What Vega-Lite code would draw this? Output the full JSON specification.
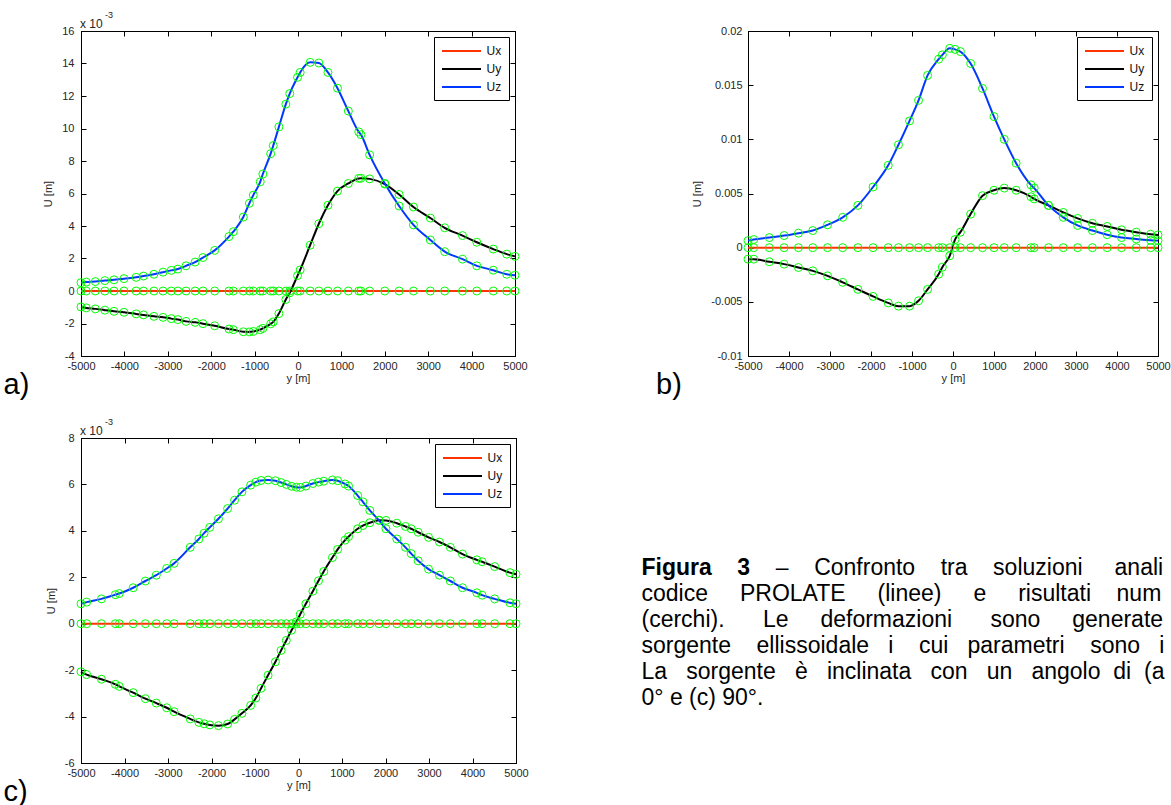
{
  "$schema": "https://vega.github.io/schema/vega-lite/v6.json",
  "background": "white",
  "padding": {"left": 3, "top": 10, "right": 0, "bottom": 0},
  "config": {
    "font": "Liberation Sans",
    "view": {"stroke": "#000", "strokeWidth": 1},
    "axis": {"grid": false, "domainColor": "#000", "domainWidth": 1, "tickColor": "#000", "tickWidth": 1, "labelFont": "Liberation Sans", "labelFontSize": 11, "labelColor": "#262626", "titleFont": "Liberation Sans", "titleFontSize": 11, "titleFontWeight": "normal", "titleColor": "#262626"},
    "legend": {"symbolType": "M-3.25,0H3.25", "symbolSize": 144, "symbolStrokeWidth": 2, "symbolOffset": 13.5, "labelOffset": 18, "labelFontSize": 12, "labelFont": "Liberation Sans", "labelColor": "#111", "strokeColor": "#000", "strokeWidth": 1, "fillColor": "white", "padding": 7, "rowPadding": 5, "cornerRadius": 0}
  },
  "datasets": {
    "a": [
      {"pos": -5000, "Ux": 0, "Uy": -0.98, "Uz": 0.51},
      {"pos": -4880, "Ux": 0, "Uy": -1.04, "Uz": 0.55},
      {"pos": -4670, "Ux": 0, "Uy": -1.10, "Uz": 0.58},
      {"pos": -4450, "Ux": 0, "Uy": -1.18, "Uz": 0.64},
      {"pos": -4240, "Ux": 0, "Uy": -1.25, "Uz": 0.69},
      {"pos": -4010, "Ux": 0, "Uy": -1.31, "Uz": 0.76},
      {"pos": -3730, "Ux": 0, "Uy": -1.41, "Uz": 0.84},
      {"pos": -3560, "Ux": 0, "Uy": -1.47, "Uz": 0.92},
      {"pos": -3320, "Ux": 0, "Uy": -1.56, "Uz": 1.03},
      {"pos": -3110, "Ux": 0, "Uy": -1.62, "Uz": 1.16},
      {"pos": -2920, "Ux": 0, "Uy": -1.70, "Uz": 1.27},
      {"pos": -2770, "Ux": 0, "Uy": -1.76, "Uz": 1.35},
      {"pos": -2580, "Ux": 0, "Uy": -1.87, "Uz": 1.55},
      {"pos": -2370, "Ux": 0, "Uy": -1.93, "Uz": 1.78},
      {"pos": -2190, "Ux": 0, "Uy": -2.01, "Uz": 2.06},
      {"pos": -1920, "Ux": 0, "Uy": -2.14, "Uz": 2.50},
      {"pos": -1590, "Ux": 0, "Uy": -2.34, "Uz": 3.35},
      {"pos": -1490, "Ux": 0, "Uy": -2.38, "Uz": 3.65},
      {"pos": -1260, "Ux": 0, "Uy": -2.51, "Uz": 4.55},
      {"pos": -1120, "Ux": 0, "Uy": -2.52, "Uz": 5.40},
      {"pos": -1030, "Ux": 0, "Uy": -2.49, "Uz": 5.90},
      {"pos": -870, "Ux": 0, "Uy": -2.38, "Uz": 6.72},
      {"pos": -810, "Ux": 0, "Uy": -2.30, "Uz": 7.20},
      {"pos": -630, "Ux": 0, "Uy": -2.02, "Uz": 8.45},
      {"pos": -570, "Ux": 0, "Uy": -1.90, "Uz": 8.95},
      {"pos": -440, "Ux": 0, "Uy": -1.39, "Uz": 10.10},
      {"pos": -280, "Ux": 0, "Uy": -0.52, "Uz": 11.50},
      {"pos": -190, "Ux": 0, "Uy": -0.11, "Uz": 12.15},
      {"pos": -10, "Ux": 0, "Uy": 0.95, "Uz": 13.15},
      {"pos": 50, "Ux": 0, "Uy": 1.30, "Uz": 13.45},
      {"pos": 280, "Ux": 0, "Uy": 2.82, "Uz": 14.07},
      {"pos": 480, "Ux": 0, "Uy": 4.14, "Uz": 14.03},
      {"pos": 690, "Ux": 0, "Uy": 5.28, "Uz": 13.45},
      {"pos": 910, "Ux": 0, "Uy": 6.15, "Uz": 12.48},
      {"pos": 1160, "Ux": 0, "Uy": 6.62, "Uz": 11.07},
      {"pos": 1400, "Ux": 0, "Uy": 6.93, "Uz": 9.79},
      {"pos": 1450, "Ux": 0, "Uy": 6.94, "Uz": 9.62},
      {"pos": 1650, "Ux": 0, "Uy": 6.90, "Uz": 8.38},
      {"pos": 2000, "Ux": 0, "Uy": 6.58, "Uz": 6.62},
      {"pos": 2330, "Ux": 0, "Uy": 5.94, "Uz": 5.23},
      {"pos": 2660, "Ux": 0, "Uy": 5.17, "Uz": 4.07},
      {"pos": 3050, "Ux": 0, "Uy": 4.49, "Uz": 3.14},
      {"pos": 3380, "Ux": 0, "Uy": 3.89, "Uz": 2.42},
      {"pos": 3790, "Ux": 0, "Uy": 3.41, "Uz": 1.96},
      {"pos": 4120, "Ux": 0, "Uy": 3.00, "Uz": 1.55},
      {"pos": 4500, "Ux": 0, "Uy": 2.58, "Uz": 1.28},
      {"pos": 4810, "Ux": 0, "Uy": 2.27, "Uz": 1.03},
      {"pos": 5000, "Ux": 0, "Uy": 2.13, "Uz": 0.97}
    ],
    "b": [
      {"pos": -5000, "Ux": 0, "Uy": -0.00106, "Uz": 0.00065},
      {"pos": -4860, "Ux": 0, "Uy": -0.00106, "Uz": 0.00075},
      {"pos": -4480, "Ux": 0, "Uy": -0.00130, "Uz": 0.00093},
      {"pos": -4120, "Ux": 0, "Uy": -0.00152, "Uz": 0.00112},
      {"pos": -3770, "Ux": 0, "Uy": -0.00183, "Uz": 0.00134},
      {"pos": -3420, "Ux": 0, "Uy": -0.00214, "Uz": 0.00158},
      {"pos": -3060, "Ux": 0, "Uy": -0.00260, "Uz": 0.00211},
      {"pos": -2690, "Ux": 0, "Uy": -0.00320, "Uz": 0.00280},
      {"pos": -2320, "Ux": 0, "Uy": -0.00385, "Uz": 0.00390},
      {"pos": -1950, "Ux": 0, "Uy": -0.00450, "Uz": 0.00560},
      {"pos": -1580, "Ux": 0, "Uy": -0.00510, "Uz": 0.00760},
      {"pos": -1330, "Ux": 0, "Uy": -0.00540, "Uz": 0.00950},
      {"pos": -1060, "Ux": 0, "Uy": -0.00540, "Uz": 0.01170},
      {"pos": -840, "Ux": 0, "Uy": -0.00490, "Uz": 0.01360},
      {"pos": -620, "Ux": 0, "Uy": -0.00385, "Uz": 0.01590},
      {"pos": -350, "Ux": 0, "Uy": -0.00245, "Uz": 0.01740},
      {"pos": -260, "Ux": 0, "Uy": -0.00180, "Uz": 0.01780},
      {"pos": -80, "Ux": 0, "Uy": -0.00075, "Uz": 0.01840},
      {"pos": 50, "Ux": 0, "Uy": 0.00075, "Uz": 0.01830},
      {"pos": 180, "Ux": 0, "Uy": 0.00143, "Uz": 0.01810},
      {"pos": 430, "Ux": 0, "Uy": 0.00310, "Uz": 0.01700},
      {"pos": 720, "Ux": 0, "Uy": 0.00480, "Uz": 0.01470},
      {"pos": 1000, "Ux": 0, "Uy": 0.00530, "Uz": 0.01210},
      {"pos": 1250, "Ux": 0, "Uy": 0.00550, "Uz": 0.01000},
      {"pos": 1540, "Ux": 0, "Uy": 0.00530, "Uz": 0.00780},
      {"pos": 1900, "Ux": 0, "Uy": 0.00470, "Uz": 0.00580},
      {"pos": 1980, "Ux": 0, "Uy": 0.00450, "Uz": 0.00550},
      {"pos": 2330, "Ux": 0, "Uy": 0.00390, "Uz": 0.00390},
      {"pos": 2690, "Ux": 0, "Uy": 0.00325, "Uz": 0.00280},
      {"pos": 3040, "Ux": 0, "Uy": 0.00270, "Uz": 0.00205},
      {"pos": 3400, "Ux": 0, "Uy": 0.00225, "Uz": 0.00158},
      {"pos": 3760, "Ux": 0, "Uy": 0.00196, "Uz": 0.00120},
      {"pos": 4110, "Ux": 0, "Uy": 0.00165, "Uz": 0.00093},
      {"pos": 4470, "Ux": 0, "Uy": 0.00143, "Uz": 0.00080},
      {"pos": 4820, "Ux": 0, "Uy": 0.00124, "Uz": 0.00068},
      {"pos": 5000, "Ux": 0, "Uy": 0.00118, "Uz": 0.00065}
    ],
    "c": [
      {"pos": -5000, "Ux": 0, "Uy": -2.07, "Uz": 0.86},
      {"pos": -4870, "Ux": 0, "Uy": -2.19, "Uz": 0.93},
      {"pos": -4530, "Ux": 0, "Uy": -2.39, "Uz": 1.07},
      {"pos": -4210, "Ux": 0, "Uy": -2.61, "Uz": 1.25},
      {"pos": -4120, "Ux": 0, "Uy": -2.70, "Uz": 1.30},
      {"pos": -3800, "Ux": 0, "Uy": -2.97, "Uz": 1.55},
      {"pos": -3520, "Ux": 0, "Uy": -3.23, "Uz": 1.84},
      {"pos": -3270, "Ux": 0, "Uy": -3.42, "Uz": 2.09},
      {"pos": -3030, "Ux": 0, "Uy": -3.62, "Uz": 2.38},
      {"pos": -2860, "Ux": 0, "Uy": -3.79, "Uz": 2.60},
      {"pos": -2490, "Ux": 0, "Uy": -4.10, "Uz": 3.29},
      {"pos": -2290, "Ux": 0, "Uy": -4.25, "Uz": 3.65},
      {"pos": -2170, "Ux": 0, "Uy": -4.31, "Uz": 3.90},
      {"pos": -2040, "Ux": 0, "Uy": -4.36, "Uz": 4.15},
      {"pos": -1840, "Ux": 0, "Uy": -4.39, "Uz": 4.52},
      {"pos": -1630, "Ux": 0, "Uy": -4.32, "Uz": 4.96},
      {"pos": -1470, "Ux": 0, "Uy": -4.12, "Uz": 5.32},
      {"pos": -1300, "Ux": 0, "Uy": -3.86, "Uz": 5.68},
      {"pos": -1100, "Ux": 0, "Uy": -3.52, "Uz": 5.97},
      {"pos": -980, "Ux": 0, "Uy": -3.20, "Uz": 6.10},
      {"pos": -860, "Ux": 0, "Uy": -2.78, "Uz": 6.17},
      {"pos": -700, "Ux": 0, "Uy": -2.22, "Uz": 6.19},
      {"pos": -530, "Ux": 0, "Uy": -1.64, "Uz": 6.16},
      {"pos": -400, "Ux": 0, "Uy": -1.15, "Uz": 6.08},
      {"pos": -280, "Ux": 0, "Uy": -0.72, "Uz": 6.00},
      {"pos": -160, "Ux": 0, "Uy": -0.28, "Uz": 5.92},
      {"pos": -50, "Ux": 0, "Uy": 0.08, "Uz": 5.88},
      {"pos": 40, "Ux": 0, "Uy": 0.41, "Uz": 5.87},
      {"pos": 170, "Ux": 0, "Uy": 0.86, "Uz": 5.93},
      {"pos": 330, "Ux": 0, "Uy": 1.40, "Uz": 6.04},
      {"pos": 460, "Ux": 0, "Uy": 1.85, "Uz": 6.10},
      {"pos": 580, "Ux": 0, "Uy": 2.25, "Uz": 6.14},
      {"pos": 780, "Ux": 0, "Uy": 2.85, "Uz": 6.19},
      {"pos": 900, "Ux": 0, "Uy": 3.20, "Uz": 6.16},
      {"pos": 1070, "Ux": 0, "Uy": 3.60, "Uz": 6.02},
      {"pos": 1150, "Ux": 0, "Uy": 3.75, "Uz": 5.93},
      {"pos": 1360, "Ux": 0, "Uy": 4.09, "Uz": 5.52},
      {"pos": 1480, "Ux": 0, "Uy": 4.23, "Uz": 5.25},
      {"pos": 1640, "Ux": 0, "Uy": 4.35, "Uz": 4.88},
      {"pos": 1850, "Ux": 0, "Uy": 4.46, "Uz": 4.45},
      {"pos": 2010, "Ux": 0, "Uy": 4.45, "Uz": 4.09},
      {"pos": 2260, "Ux": 0, "Uy": 4.33, "Uz": 3.65},
      {"pos": 2460, "Ux": 0, "Uy": 4.19, "Uz": 3.29},
      {"pos": 2590, "Ux": 0, "Uy": 4.09, "Uz": 3.02},
      {"pos": 2750, "Ux": 0, "Uy": 3.94, "Uz": 2.71},
      {"pos": 2990, "Ux": 0, "Uy": 3.72, "Uz": 2.35},
      {"pos": 3240, "Ux": 0, "Uy": 3.52, "Uz": 2.09},
      {"pos": 3490, "Ux": 0, "Uy": 3.29, "Uz": 1.84},
      {"pos": 3770, "Ux": 0, "Uy": 3.00, "Uz": 1.55},
      {"pos": 4100, "Ux": 0, "Uy": 2.75, "Uz": 1.33},
      {"pos": 4220, "Ux": 0, "Uy": 2.67, "Uz": 1.23},
      {"pos": 4510, "Ux": 0, "Uy": 2.46, "Uz": 1.07},
      {"pos": 4860, "Ux": 0, "Uy": 2.20, "Uz": 0.90},
      {"pos": 5000, "Ux": 0, "Uy": 2.13, "Uz": 0.86}
    ]
  },
  "columns": 2,
  "align": "none",
  "bounds": "flush",
  "spacing": {"row": 82, "column": 232},
  "resolve": {"scale": {"x": "independent", "y": "independent", "color": "independent"}, "axis": {"x": "independent", "y": "independent"}, "legend": {"color": "independent"}},
  "concat": [
    {
      "width": 434, "height": 325,
      "resolve": {"axis": {"x": "independent", "y": "independent"}},
      "layer": [
        {
          "data": {"name": "a"},
          "transform": [{"fold": ["Ux", "Uy", "Uz"], "as": ["comp", "U"]}],
          "mark": {"type": "line", "strokeWidth": 2, "interpolate": "monotone"},
          "encoding": {
            "x": {"field": "pos", "type": "quantitative", "scale": {"domain": [-5000, 5000], "nice": false}, "axis": {"orient": "bottom", "values": [-5000, -4000, -3000, -2000, -1000, 0, 1000, 2000, 3000, 4000, 5000], "labelExpr": "''+datum.value", "title": "y [m]", "tickSize": -5, "labelPadding": 9, "titlePadding": 1, "labelFlush": false, "labelOverlap": false}},
            "y": {"field": "U", "type": "quantitative", "scale": {"domain": [-4, 16], "nice": false, "zero": false}, "axis": {"orient": "left", "values": [-4, -2, 0, 2, 4, 6, 8, 10, 12, 14, 16], "labelExpr": "''+datum.value", "title": "U [m]", "tickSize": -5, "labelPadding": 12, "titlePadding": 8, "labelFlush": false, "labelOverlap": false}},
            "color": {"field": "comp", "type": "nominal", "scale": {"domain": ["Ux", "Uy", "Uz"], "range": ["#ff3300", "#000000", "#0038ff"]}, "legend": {"orient": "top-right", "offset": 6, "title": null}}
          }
        },
        {
          "data": {"name": "a"},
          "transform": [{"fold": ["Ux", "Uy", "Uz"], "as": ["comp", "U"]}],
          "mark": {"type": "point", "shape": "circle", "filled": false, "color": "#00ff00", "size": 64, "strokeWidth": 1, "opacity": 1},
          "encoding": {
            "x": {"field": "pos", "type": "quantitative", "scale": {"domain": [-5000, 5000], "nice": false}, "axis": {"orient": "top", "values": [-5000, -4000, -3000, -2000, -1000, 0, 1000, 2000, 3000, 4000, 5000], "labels": false, "title": null, "tickSize": -5}},
            "y": {"field": "U", "type": "quantitative", "scale": {"domain": [-4, 16], "nice": false, "zero": false}, "axis": {"orient": "right", "values": [-4, -2, 0, 2, 4, 6, 8, 10, 12, 14, 16], "labels": false, "title": null, "tickSize": -5}}
          }
        },
        {
          "data": {"values": [{"pos": -5000, "U": 16, "t": "x 10"}]},
          "mark": {"type": "text", "align": "left", "baseline": "alphabetic", "dx": -1, "dy": -3, "fontSize": 12, "font": "Liberation Sans", "color": "#262626"},
          "encoding": {"x": {"field": "pos", "type": "quantitative", "scale": {"domain": [-5000, 5000], "nice": false}, "axis": null}, "y": {"field": "U", "type": "quantitative", "scale": {"domain": [-4, 16], "nice": false, "zero": false}, "axis": null}, "text": {"field": "t"}}
        },
        {
          "data": {"values": [{"pos": -5000, "U": 16, "t": "-3"}]},
          "mark": {"type": "text", "align": "left", "baseline": "alphabetic", "dx": 24, "dy": -13, "fontSize": 9, "font": "Liberation Sans", "color": "#262626"},
          "encoding": {"x": {"field": "pos", "type": "quantitative", "scale": {"domain": [-5000, 5000], "nice": false}, "axis": null}, "y": {"field": "U", "type": "quantitative", "scale": {"domain": [-4, 16], "nice": false, "zero": false}, "axis": null}, "text": {"field": "t"}}
        },
        {
          "data": {"values": [{"pos": -5000, "U": -4, "t": "a)"}]},
          "mark": {"type": "text", "align": "left", "baseline": "alphabetic", "dx": -77.5, "dy": 38, "fontSize": 29, "font": "Liberation Sans", "color": "#000"},
          "encoding": {"x": {"field": "pos", "type": "quantitative", "scale": {"domain": [-5000, 5000], "nice": false}, "axis": null}, "y": {"field": "U", "type": "quantitative", "scale": {"domain": [-4, 16], "nice": false, "zero": false}, "axis": null}, "text": {"field": "t"}}
        }
      ]
    },
    {
      "width": 410, "height": 325,
      "resolve": {"axis": {"x": "independent", "y": "independent"}},
      "layer": [
        {
          "data": {"name": "b"},
          "transform": [{"fold": ["Ux", "Uy", "Uz"], "as": ["comp", "U"]}],
          "mark": {"type": "line", "strokeWidth": 2, "interpolate": "monotone"},
          "encoding": {
            "x": {"field": "pos", "type": "quantitative", "scale": {"domain": [-5000, 5000], "nice": false}, "axis": {"orient": "bottom", "values": [-5000, -4000, -3000, -2000, -1000, 0, 1000, 2000, 3000, 4000, 5000], "labelExpr": "''+datum.value", "title": "y [m]", "tickSize": -5, "labelPadding": 9, "titlePadding": 1, "labelFlush": false, "labelOverlap": false}},
            "y": {"field": "U", "type": "quantitative", "scale": {"domain": [-0.01, 0.02], "nice": false, "zero": false}, "axis": {"orient": "left", "values": [-0.01, -0.005, 0, 0.005, 0.01, 0.015, 0.02], "labelExpr": "''+datum.value", "title": "U [m]", "tickSize": -5, "labelPadding": 11, "titlePadding": 8, "labelFlush": false, "labelOverlap": false}},
            "color": {"field": "comp", "type": "nominal", "scale": {"domain": ["Ux", "Uy", "Uz"], "range": ["#ff3300", "#000000", "#0038ff"]}, "legend": {"orient": "top-right", "offset": 6, "title": null}}
          }
        },
        {
          "data": {"name": "b"},
          "transform": [{"fold": ["Ux", "Uy", "Uz"], "as": ["comp", "U"]}],
          "mark": {"type": "point", "shape": "circle", "filled": false, "color": "#00ff00", "size": 64, "strokeWidth": 1, "opacity": 1},
          "encoding": {
            "x": {"field": "pos", "type": "quantitative", "scale": {"domain": [-5000, 5000], "nice": false}, "axis": {"orient": "top", "values": [-5000, -4000, -3000, -2000, -1000, 0, 1000, 2000, 3000, 4000, 5000], "labels": false, "title": null, "tickSize": -5}},
            "y": {"field": "U", "type": "quantitative", "scale": {"domain": [-0.01, 0.02], "nice": false, "zero": false}, "axis": {"orient": "right", "values": [-0.01, -0.005, 0, 0.005, 0.01, 0.015, 0.02], "labels": false, "title": null, "tickSize": -5}}
          }
        },
        {
          "data": {"values": [{"pos": -5000, "U": -0.01, "t": "b)"}]},
          "mark": {"type": "text", "align": "left", "baseline": "alphabetic", "dx": -92, "dy": 38, "fontSize": 29, "font": "Liberation Sans", "color": "#000"},
          "encoding": {"x": {"field": "pos", "type": "quantitative", "scale": {"domain": [-5000, 5000], "nice": false}, "axis": null}, "y": {"field": "U", "type": "quantitative", "scale": {"domain": [-0.01, 0.02], "nice": false, "zero": false}, "axis": null}, "text": {"field": "t"}}
        }
      ]
    },
    {
      "width": 435, "height": 325,
      "resolve": {"axis": {"x": "independent", "y": "independent"}},
      "layer": [
        {
          "data": {"name": "c"},
          "transform": [{"fold": ["Ux", "Uy", "Uz"], "as": ["comp", "U"]}],
          "mark": {"type": "line", "strokeWidth": 2, "interpolate": "monotone"},
          "encoding": {
            "x": {"field": "pos", "type": "quantitative", "scale": {"domain": [-5000, 5000], "nice": false}, "axis": {"orient": "bottom", "values": [-5000, -4000, -3000, -2000, -1000, 0, 1000, 2000, 3000, 4000, 5000], "labelExpr": "''+datum.value", "title": "y [m]", "tickSize": -5, "labelPadding": 9, "titlePadding": 1, "labelFlush": false, "labelOverlap": false}},
            "y": {"field": "U", "type": "quantitative", "scale": {"domain": [-6, 8], "nice": false, "zero": false}, "axis": {"orient": "left", "values": [-6, -4, -2, 0, 2, 4, 6, 8], "labelExpr": "''+datum.value", "title": "U [m]", "tickSize": -5, "labelPadding": 12, "titlePadding": 8, "labelFlush": false, "labelOverlap": false}},
            "color": {"field": "comp", "type": "nominal", "scale": {"domain": ["Ux", "Uy", "Uz"], "range": ["#ff3300", "#000000", "#0038ff"]}, "legend": {"orient": "top-right", "offset": 6, "title": null}}
          }
        },
        {
          "data": {"name": "c"},
          "transform": [{"fold": ["Ux", "Uy", "Uz"], "as": ["comp", "U"]}],
          "mark": {"type": "point", "shape": "circle", "filled": false, "color": "#00ff00", "size": 64, "strokeWidth": 1, "opacity": 1},
          "encoding": {
            "x": {"field": "pos", "type": "quantitative", "scale": {"domain": [-5000, 5000], "nice": false}, "axis": {"orient": "top", "values": [-5000, -4000, -3000, -2000, -1000, 0, 1000, 2000, 3000, 4000, 5000], "labels": false, "title": null, "tickSize": -5}},
            "y": {"field": "U", "type": "quantitative", "scale": {"domain": [-6, 8], "nice": false, "zero": false}, "axis": {"orient": "right", "values": [-6, -4, -2, 0, 2, 4, 6, 8], "labels": false, "title": null, "tickSize": -5}}
          }
        },
        {
          "data": {"values": [{"pos": -5000, "U": 8, "t": "x 10"}]},
          "mark": {"type": "text", "align": "left", "baseline": "alphabetic", "dx": -1, "dy": -3, "fontSize": 12, "font": "Liberation Sans", "color": "#262626"},
          "encoding": {"x": {"field": "pos", "type": "quantitative", "scale": {"domain": [-5000, 5000], "nice": false}, "axis": null}, "y": {"field": "U", "type": "quantitative", "scale": {"domain": [-6, 8], "nice": false, "zero": false}, "axis": null}, "text": {"field": "t"}}
        },
        {
          "data": {"values": [{"pos": -5000, "U": 8, "t": "-3"}]},
          "mark": {"type": "text", "align": "left", "baseline": "alphabetic", "dx": 24, "dy": -13, "fontSize": 9, "font": "Liberation Sans", "color": "#262626"},
          "encoding": {"x": {"field": "pos", "type": "quantitative", "scale": {"domain": [-5000, 5000], "nice": false}, "axis": null}, "y": {"field": "U", "type": "quantitative", "scale": {"domain": [-6, 8], "nice": false, "zero": false}, "axis": null}, "text": {"field": "t"}}
        },
        {
          "data": {"values": [{"pos": -5000, "U": -6, "t": "c)"}]},
          "mark": {"type": "text", "align": "left", "baseline": "alphabetic", "dx": -77.5, "dy": 38, "fontSize": 29, "font": "Liberation Sans", "color": "#000"},
          "encoding": {"x": {"field": "pos", "type": "quantitative", "scale": {"domain": [-5000, 5000], "nice": false}, "axis": null}, "y": {"field": "U", "type": "quantitative", "scale": {"domain": [-6, 8], "nice": false, "zero": false}, "axis": null}, "text": {"field": "t"}}
        }
      ]
    },
    {
      "width": 410, "height": 324,
      "view": {"stroke": null},
      "layer": [
        {
          "data": {"values": [{"col": 0, "line": 1, "t": "Figura\u00a0\u00a0\u00a0\u00a03"}]},
          "mark": {"type": "text", "align": "left", "baseline": "alphabetic", "fontSize": 23, "fontWeight": "bold", "font": "Liberation Sans", "color": "#000", "dx": -106.5},
          "encoding": {"x": {"field": "col", "type": "quantitative", "scale": {"domain": [0, 1]}, "axis": null}, "y": {"field": "line", "type": "quantitative", "scale": {"domain": [-4.27, 8.19], "reverse": true, "nice": false, "zero": false}, "axis": null}, "text": {"field": "t"}}
        },
        {
          "data": {"values": [{"col": 0, "line": 1, "t": "–\u00a0\u00a0\u00a0\u00a0Confronto\u00a0\u00a0\u00a0\u00a0tra\u00a0\u00a0\u00a0\u00a0soluzioni\u00a0\u00a0\u00a0\u00a0\u00a0anali"}]},
          "mark": {"type": "text", "align": "left", "baseline": "alphabetic", "fontSize": 23, "font": "Liberation Sans", "color": "#000", "dx": 27.8},
          "encoding": {"x": {"field": "col", "type": "quantitative", "scale": {"domain": [0, 1]}, "axis": null}, "y": {"field": "line", "type": "quantitative", "scale": {"domain": [-4.27, 8.19], "reverse": true, "nice": false, "zero": false}, "axis": null}, "text": {"field": "t"}}
        },
        {
          "data": {"values": [
            {"col": 0, "line": 2, "t": "codice\u00a0\u00a0\u00a0\u00a0\u00a0PROLATE\u00a0\u00a0\u00a0\u00a0\u00a0(linee)\u00a0\u00a0\u00a0\u00a0\u00a0e\u00a0\u00a0\u00a0\u00a0\u00a0risultati\u00a0\u00a0\u00a0\u00a0num"},
            {"col": 0, "line": 3, "t": "(cerchi).\u00a0\u00a0\u00a0\u00a0\u00a0\u00a0Le\u00a0\u00a0\u00a0\u00a0\u00a0deformazioni\u00a0\u00a0\u00a0\u00a0\u00a0\u00a0sono\u00a0\u00a0\u00a0\u00a0\u00a0generate"},
            {"col": 0, "line": 4, "t": "sorgente\u00a0\u00a0\u00a0\u00a0ellissoidale\u00a0\u00a0\u00a0i\u00a0\u00a0\u00a0\u00a0cui\u00a0\u00a0\u00a0parametri\u00a0\u00a0\u00a0\u00a0sono\u00a0\u00a0\u00a0i"},
            {"col": 0, "line": 5, "t": "La\u00a0\u00a0\u00a0sorgente\u00a0\u00a0\u00a0è\u00a0\u00a0\u00a0inclinata\u00a0\u00a0\u00a0con\u00a0\u00a0\u00a0un\u00a0\u00a0\u00a0angolo\u00a0\u00a0di\u00a0\u00a0(a"},
            {"col": 0, "line": 6, "t": "0° e (c) 90°."}
          ]},
          "mark": {"type": "text", "align": "left", "baseline": "alphabetic", "fontSize": 23, "font": "Liberation Sans", "color": "#000", "dx": -106.5},
          "encoding": {"x": {"field": "col", "type": "quantitative", "scale": {"domain": [0, 1]}, "axis": null}, "y": {"field": "line", "type": "quantitative", "scale": {"domain": [-4.27, 8.19], "reverse": true, "nice": false, "zero": false}, "axis": null}, "text": {"field": "t"}}
        }
      ]
    }
  ]
}
